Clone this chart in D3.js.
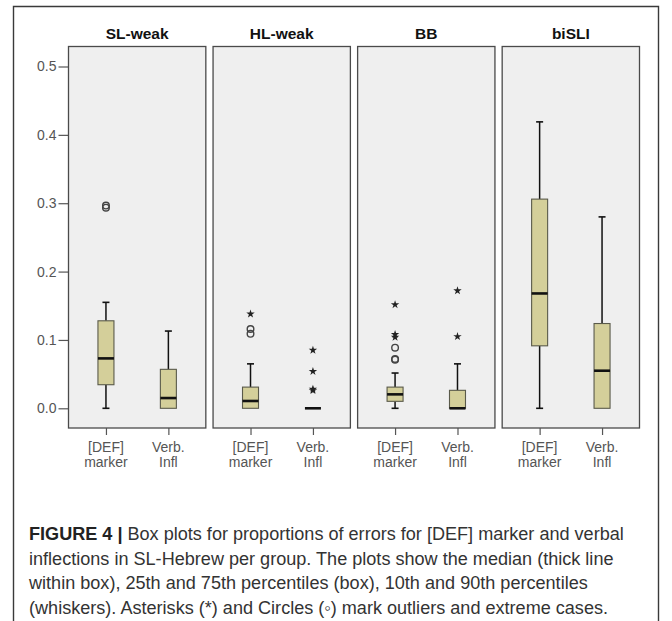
<!DOCTYPE html>
<html>
<head>
<meta charset="utf-8">
<script src="https://cdn.jsdelivr.net/npm/d3@7"></script>
<style>
  html, body { margin: 0; padding: 0; background: #fff; }
  svg { display: block; font-family: "Liberation Sans", Arial, sans-serif; }
</style>
</head>
<body>
<svg id="chart" width="672" height="621"></svg>
<script>
// Groups (panels) and the two measures within each panel
const groups = ["SL-weak", "HL-weak", "BB", "biSLI"];
const measures = ["[DEF] marker", "Verb. Infl"];
const measureLines = [["[DEF]", "marker"], ["Verb.", "Infl"]];

// Box statistics, indexed [group][measure]
const whiskerLow  = [[0.000, 0.000], [0.000, 0.000], [0.000, 0.000], [0.000, 0.000]];
const quartile1   = [[0.0345, 0.000], [0.000, 0.000], [0.0102, 0.000], [0.0914, 0.000]];
const medians     = [[0.073, 0.015], [0.0107, 0.000], [0.0204, 0.000], [0.168, 0.055]];
const quartile3   = [[0.128, 0.057], [0.031, 0.000], [0.031, 0.0263], [0.306, 0.124]];
const whiskerHigh = [[0.155, 0.113], [0.065, 0.000], [0.0516, 0.065], [0.419, 0.280]];

// Outliers drawn as circles: [group, measure, value]
const circleOutliers = [
  ["SL-weak", "[DEF] marker", 0.2965],
  ["SL-weak", "[DEF] marker", 0.2935],
  ["HL-weak", "[DEF] marker", 0.116],
  ["HL-weak", "[DEF] marker", 0.109],
  ["BB", "[DEF] marker", 0.0887],
  ["BB", "[DEF] marker", 0.0722],
  ["BB", "[DEF] marker", 0.0712]
];
// Extreme cases drawn as asterisks: [group, measure, value]
const starOutliers = [
  ["HL-weak", "[DEF] marker", 0.138],
  ["HL-weak", "Verb. Infl", 0.085],
  ["HL-weak", "Verb. Infl", 0.054],
  ["HL-weak", "Verb. Infl", 0.028],
  ["HL-weak", "Verb. Infl", 0.026],
  ["BB", "[DEF] marker", 0.1516],
  ["BB", "[DEF] marker", 0.108],
  ["BB", "[DEF] marker", 0.104],
  ["BB", "Verb. Infl", 0.172],
  ["BB", "Verb. Infl", 0.105]
];

const yTicks = [0.0, 0.1, 0.2, 0.3, 0.4, 0.5];

const captionLines = [
  [["FIGURE 4 | ", true], ["Box plots for proportions of errors for [DEF] marker and verbal", false]],
  [["inflections in SL-Hebrew per group. The plots show the median (thick line", false]],
  [["within box), 25th and 75th percentiles (box), 10th and 90th percentiles", false]],
  [["(whiskers). Asterisks (*) and Circles (\u25E6) mark outliers and extreme cases.", false]]
];

const svg = d3.select("#chart");

// Figure frame (open at the bottom)
svg.append("path")
  .attr("d", "M13.5,640 V6.5 H658.5 V640")
  .attr("fill", "none")
  .attr("stroke", "#3a3a3a")
  .attr("stroke-width", 1.4);

const plotTop = 46.5, plotBottom = 428;
const panelX = d3.scaleBand().domain(groups).range([68.5, 639.5]).paddingInner(0.05);
const y = d3.scaleLinear().domain([0, 0.5]).range([408.3, 66.5]);
const x = d3.scalePoint().domain(measures).range([0, panelX.bandwidth()]).padding(0.6);

const boxW = 16, capW = 6;

// Shared y axis on the left of the first panel
const yAxis = svg.append("g")
  .attr("transform", `translate(${panelX(groups[0])},0)`)
  .call(d3.axisLeft(y).tickValues(yTicks).tickFormat(d3.format(".1f")).tickSize(10).tickPadding(2));
yAxis.select(".domain").remove();
yAxis.selectAll(".tick line").attr("stroke", "#555").attr("stroke-width", 1.2);
yAxis.selectAll(".tick text").attr("fill", "#555").attr("font-size", 14)
  .attr("font-family", "Liberation Sans, Arial, sans-serif");

const star = d3.symbol().type(d3.symbolStar).size(22);

groups.forEach((g, gi) => {
  const px = panelX(g);
  const panel = svg.append("g").attr("transform", `translate(${px},0)`);

  panel.append("rect")
    .attr("x", 0).attr("y", plotTop)
    .attr("width", panelX.bandwidth()).attr("height", plotBottom - plotTop)
    .attr("fill", "#efefef")
    .attr("stroke", "#4a4a4a").attr("stroke-width", 1.3);

  // Panel title
  svg.append("text")
    .attr("x", px + panelX.bandwidth() / 2).attr("y", 38.5)
    .attr("text-anchor", "middle")
    .attr("font-size", 15.5).attr("font-weight", "bold").attr("fill", "#111")
    .text(g);

  // Bottom axis with two-line labels
  const xAxis = panel.append("g")
    .attr("transform", `translate(0,${plotBottom})`)
    .call(d3.axisBottom(x).tickSize(7).tickFormat(""));
  xAxis.select(".domain").remove();
  xAxis.selectAll(".tick line").attr("stroke", "#555").attr("stroke-width", 1.2);
  measures.forEach((m, mi) => {
    const t = panel.append("text")
      .attr("x", x(m)).attr("y", 452)
      .attr("text-anchor", "middle")
      .attr("font-size", 14).attr("fill", "#555");
    measureLines[mi].forEach((ln, li) => {
      t.append("tspan").attr("x", x(m)).attr("dy", li === 0 ? 0 : 14.5).text(ln);
    });
  });

  measures.forEach((m, mi) => {
    const cx = x(m);
    const lo = whiskerLow[gi][mi], hi = whiskerHigh[gi][mi];
    const q1 = quartile1[gi][mi], q3 = quartile3[gi][mi], md = medians[gi][mi];

    // Whiskers and caps
    if (hi > q3) {
      panel.append("line").attr("x1", cx).attr("x2", cx).attr("y1", y(q3)).attr("y2", y(hi))
        .attr("stroke", "#111").attr("stroke-width", 1.5);
      panel.append("line").attr("x1", cx - capW / 2 - 0.5).attr("x2", cx + capW / 2 + 0.5)
        .attr("y1", y(hi)).attr("y2", y(hi)).attr("stroke", "#111").attr("stroke-width", 1.6);
    }
    if (lo < q1) {
      panel.append("line").attr("x1", cx).attr("x2", cx).attr("y1", y(q1)).attr("y2", y(lo))
        .attr("stroke", "#111").attr("stroke-width", 1.5);
      panel.append("line").attr("x1", cx - capW / 2 - 0.5).attr("x2", cx + capW / 2 + 0.5)
        .attr("y1", y(lo)).attr("y2", y(lo)).attr("stroke", "#111").attr("stroke-width", 1.6);
    }
    // Box
    if (q3 > q1) {
      panel.append("rect")
        .attr("x", cx - boxW / 2).attr("y", y(q3))
        .attr("width", boxW).attr("height", y(q1) - y(q3))
        .attr("fill", "#d4cf9a").attr("stroke", "#5a5a4a").attr("stroke-width", 1.1);
    }
    // Median
    panel.append("line")
      .attr("x1", cx - boxW / 2).attr("x2", cx + boxW / 2)
      .attr("y1", y(md)).attr("y2", y(md))
      .attr("stroke", "#111").attr("stroke-width", 2.6);
  });

  // Circle outliers
  panel.selectAll("circle.out")
    .data(circleOutliers.filter(d => d[0] === g))
    .join("circle")
    .attr("class", "out")
    .attr("cx", d => x(d[1])).attr("cy", d => y(d[2]))
    .attr("r", 3.3)
    .attr("fill", "none").attr("stroke", "#444").attr("stroke-width", 1.4);

  // Asterisk outliers
  panel.selectAll("path.star")
    .data(starOutliers.filter(d => d[0] === g))
    .join("path")
    .attr("class", "star")
    .attr("transform", d => `translate(${x(d[1])},${y(d[2])})`)
    .attr("d", star)
    .attr("fill", "#222");
});

// Caption: size the type so the first line spans the frame's text width
const capLeft = 29, capRight = 624;
const cap = svg.append("text")
  .attr("x", capLeft).attr("y", 540)
  .attr("font-size", 16).attr("fill", "#333")
  .attr("font-family", "Liberation Sans, Arial, sans-serif");
const capLineEls = [];
captionLines.forEach((line, li) => {
  line.forEach(([txt, bold], si) => {
    const ts = cap.append("tspan").text(txt);
    if (si === 0) { ts.attr("x", capLeft).attr("dy", li === 0 ? 0 : 24.5); capLineEls.push([]); }
    if (bold) ts.attr("font-weight", "bold").attr("fill", "#222");
    capLineEls[li].push(ts.node());
  });
});
const firstWidth = d3.sum(capLineEls[0], n => n.getComputedTextLength());
if (firstWidth > 0) {
  const fs = Math.min(18.5, 16 * (capRight - capLeft) / firstWidth);
  cap.attr("font-size", fs);
}
</script>
</body>
</html>
